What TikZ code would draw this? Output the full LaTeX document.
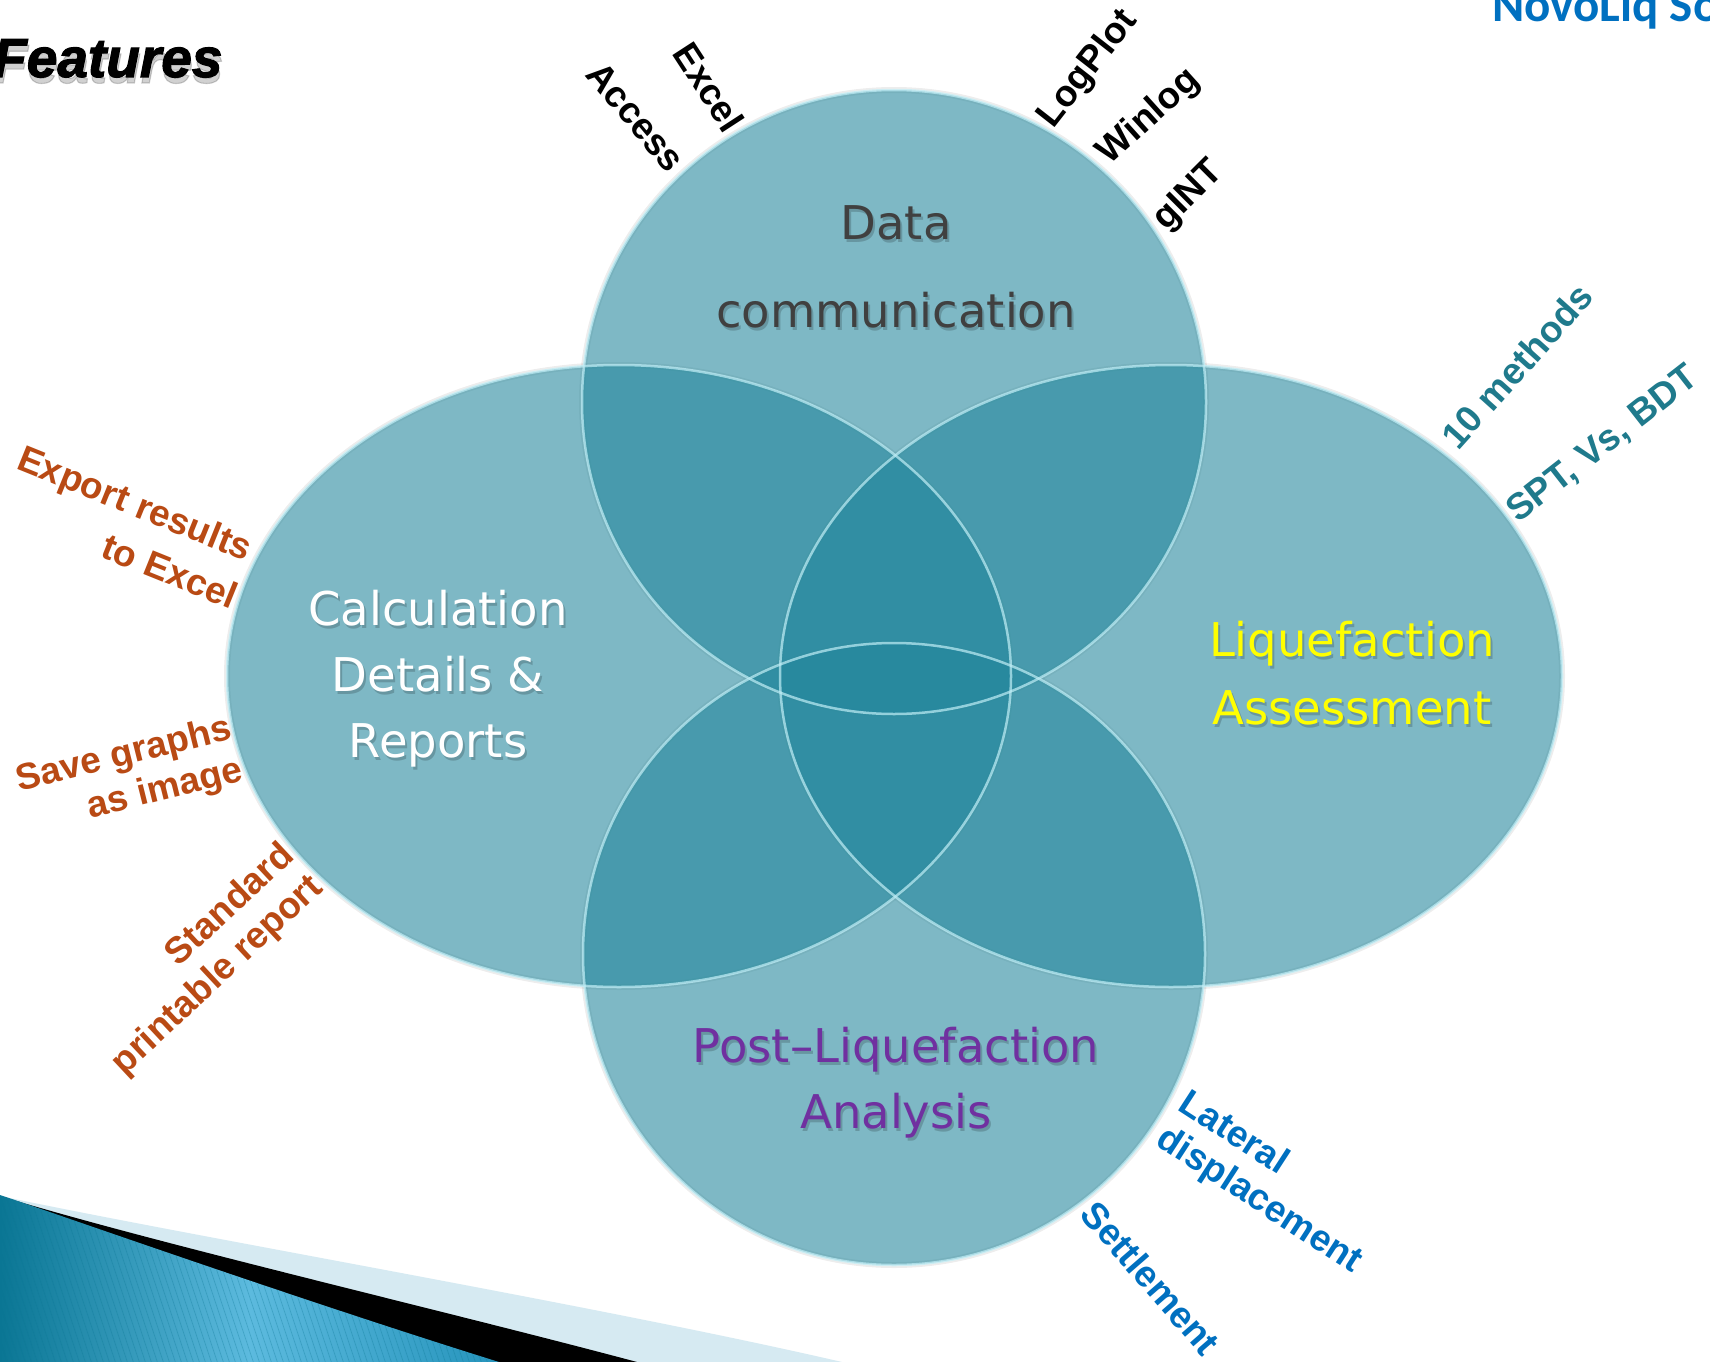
\documentclass[tikz,border=0pt]{standalone}
\usepackage{fontspec}
\setmainfont{DejaVu Sans}
\newfontfamily\labelfont{Liberation Sans}
\newfontfamily\heavyfont[BoldItalicFeatures={FakeBold=2}]{Liberation Sans}
\newfontfamily\brandfont{Carlito}
\usetikzlibrary{shadings}

\definecolor{bubble}{RGB}{34,134,156}
\definecolor{rim}{RGB}{192,238,246}
\definecolor{darktext}{RGB}{64,64,64}
\definecolor{yellowtext}{RGB}{255,255,0}
\definecolor{purpletext}{RGB}{112,48,160}
\definecolor{rust}{RGB}{185,74,20}
\definecolor{tealtext}{RGB}{31,122,140}
\definecolor{bluetext}{RGB}{0,112,192}
\definecolor{paleband}{RGB}{214,234,242}
\definecolor{swoopL}{RGB}{10,118,148}
\definecolor{swoopM}{RGB}{92,186,222}
\definecolor{swoopR}{RGB}{38,148,188}

\tikzset{
  bubblefill/.style={fill=bubble, fill opacity=0.58},
  bubblerim/.style={draw=rim, line width=2.5pt, draw opacity=0.7},
  bubbleshadow/.style={draw=black, line width=6pt, draw opacity=0.07},
  title/.style={font=\fontsize{46.5}{66}\selectfont, align=center, inner sep=0pt},
  titleshadow/.style={title, text=black, text opacity=0.18, xshift=2pt, yshift=-3pt},
  side/.style={font=\labelfont\bfseries\fontsize{37}{42}\selectfont, inner sep=0pt},
  heading/.style={font=\heavyfont\bfseries\itshape\fontsize{55}{60}\selectfont, anchor=base west, inner sep=0pt},
}

% a centred title with a soft drop shadow behind it
\newcommand\bubbletitle[4]{%
  \node[titleshadow] (#1-shadow) at (#2) {#4};
  \node[title, text=#3] (#1) at (#2) {#4};}

\begin{document}
\begin{tikzpicture}[x=1pt,y=-1pt]
\useasboundingbox (0,0) rectangle (1710,1362);
\clip (0,0) rectangle (1710,1362);
\fill[white] (0,0) rectangle (1710,1362);

% corner swoosh
\fill[paleband] (0,1196) .. controls (200,1238) and (600,1306) .. (842,1362) -- (0,1362) -- cycle;
\fill[black] (0,1196) .. controls (150,1242) and (450,1312) .. (637,1362) -- (0,1362) -- cycle;
\begin{scope}
  \clip (0,1195) .. controls (60,1215) and (300,1300) .. (499,1362) -- (0,1362) -- cycle;
  \shade[left color=swoopL, right color=swoopR, middle color=swoopM] (0,1190) rectangle (499,1362);
  \foreach \i in {0,...,110}
    \draw[swoopL, opacity=0.3, line width=0.7pt] ({\i*6-140},1190) -- ++(60,180);
\end{scope}

% bubble centres
\coordinate (ctop) at (894,402);
\coordinate (cleft) at (619,676);
\coordinate (cright) at (1171,676);
\coordinate (cbottom) at (894,954);

% shadows
\draw[bubbleshadow, yshift=-4pt] (ctop) circle[radius=312pt];
\draw[bubbleshadow, yshift=-4pt] (cleft) ellipse[x radius=392pt, y radius=311pt];
\draw[bubbleshadow, yshift=-4pt] (cright) ellipse[x radius=391pt, y radius=311pt];
\draw[bubbleshadow, yshift=-4pt] (cbottom) circle[radius=311pt];

% translucent bubbles
\fill[bubblefill] (ctop) circle[radius=312pt];
\fill[bubblefill] (cleft) ellipse[x radius=392pt, y radius=311pt];
\fill[bubblefill] (cright) ellipse[x radius=391pt, y radius=311pt];
\fill[bubblefill] (cbottom) circle[radius=311pt];

% glossy rims
\draw[bubblerim] (ctop) circle[radius=312pt];
\draw[bubblerim] (cleft) ellipse[x radius=392pt, y radius=311pt];
\draw[bubblerim] (cright) ellipse[x radius=391pt, y radius=311pt];
\draw[bubblerim] (cbottom) circle[radius=311pt];

% bubble titles
\bubbletitle{data}{896,267}{darktext}{Data\\[22pt]communication}
\bubbletitle{calc}{438,679}{white}{Calculation\\Details \&\\Reports}
\bubbletitle{liq}{1352,673}{yellowtext}{Liquefaction\\[2pt]Assessment}
\bubbletitle{post}{896,1083}{purpletext}{Post–Liquefaction\\Analysis}

% heading and brand
\node[heading, text=black, text opacity=0.18, xshift=1pt, yshift=-6pt] (features-shadow) at (-7,77) {Features};
\node[heading] (features) at (-7,77) {Features};
\node[font=\brandfont\bfseries\fontsize{49}{55}\selectfont, text=bluetext, anchor=base west, inner sep=0pt]
      (brand) at (1492,22) {NovoLiq So};

% data sources
\node[side, rotate=-50] (access) at (636,117) {Access};
\node[side, rotate=-57] (excel) at (709,87) {Excel};
\node[side, rotate=52] (logplot) at (1088,69) {LogPlot};
\node[side, rotate=42] (winlog) at (1149,117) {Winlog};
\node[side, rotate=45] (gint) at (1189,196) {gINT};

% reporting
\node[side, text=rust, rotate=-22] (export1) at (134,506) {Export results};
\node[side, text=rust, rotate=-22] (export2) at (170,571) {to Excel};
\node[side, text=rust, rotate=14] (save1) at (124,756) {Save graphs};
\node[side, text=rust, rotate=14] (save2) at (165,790) {as image};
\node[side, text=rust, rotate=43] (std1) at (228,903) {Standard};
\node[side, text=rust, rotate=43] (std2) at (218,976) {printable report};

% assessment
\node[side, text=tealtext, rotate=48] (methods) at (1517,366) {10 methods};
\node[side, text=tealtext, rotate=38] (tests) at (1603,445) {SPT, Vs, BDT};

% post-liquefaction
\node[side, text=bluetext, rotate=-33] (lat1) at (1235,1131) {Lateral};
\node[side, text=bluetext, rotate=-33] (lat2) at (1259,1201) {displacement};
\node[side, text=bluetext, rotate=-49] (settle) at (1151,1278) {Settlement};
\end{tikzpicture}
\end{document}
